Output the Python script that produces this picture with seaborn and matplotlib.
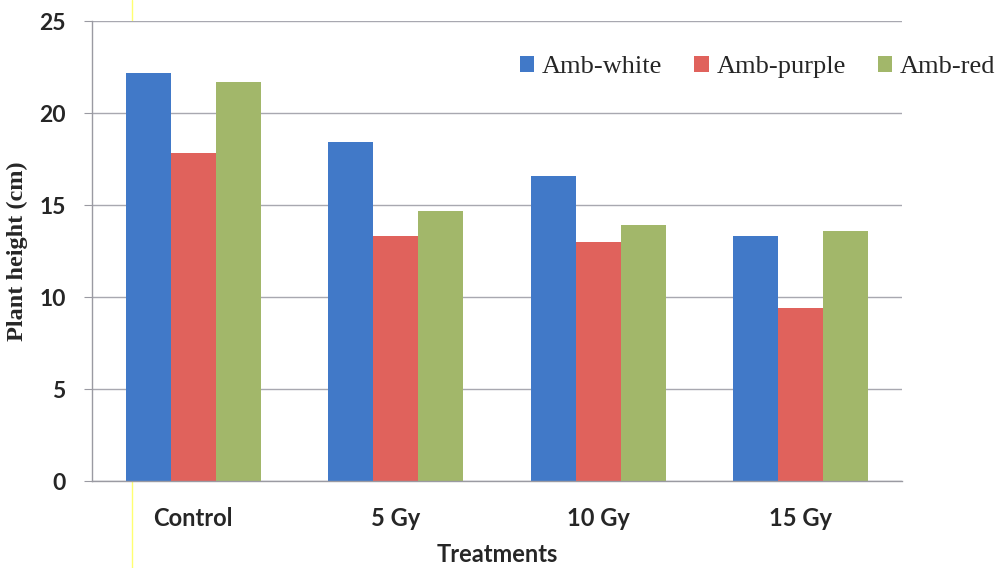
import matplotlib
matplotlib.use("Agg")
import matplotlib.pyplot as plt
from matplotlib.lines import Line2D
import seaborn as sns
import pandas as pd
import numpy as np

treatments = ["Control", "5 Gy", "10 Gy", "15 Gy"]
series = ["Amb-white", "Amb-purple", "Amb-red"]
amb_white = [22.2, 18.4, 16.6, 13.3]
amb_purple = [17.8, 13.3, 13.0, 9.4]
amb_red = [21.7, 14.7, 13.9, 13.6]
colors = ["#4179C8", "#E0625C", "#A2B76A"]
yticks = [0, 5, 10, 15, 20, 25]

rows = []
for s, vals in zip(series, [amb_white, amb_purple, amb_red]):
    for t, v in zip(treatments, vals):
        rows.append({"Treatments": t, "Series": s, "Height": v})
df = pd.DataFrame(rows)

sns.set_style("white")
fig = plt.figure(figsize=(10.05, 5.68), dpi=100)
ax = fig.add_axes([92/1005, 1-481/568, 810/1005, 460/568])

sns.barplot(data=df, x="Treatments", y="Height", hue="Series", order=treatments,
            hue_order=series, palette=colors, width=0.667, gap=0, saturation=1,
            linewidth=0, ax=ax, legend=True)

ax.set_xlim(-0.5, 3.5)
ax.set_ylim(0, 25)
ax.set_yticks(yticks)
ax.yaxis.grid(True, color="#A8A8B0", linewidth=1)
ax.set_axisbelow(True)
for sp in ["top", "right"]:
    ax.spines[sp].set_visible(False)
for sp in ["left", "bottom"]:
    ax.spines[sp].set_color("#9A9AA2")
    ax.spines[sp].set_linewidth(1)

ax.set_xticks(range(len(treatments)))
ax.set_xticklabels(treatments, fontfamily="Lato", fontweight="bold", fontsize=17)
ax.set_xticks(np.arange(-0.5, 4.0, 1.0), minor=True)
ax.tick_params(axis="x", which="major", length=0, pad=19)
ax.tick_params(axis="x", which="minor", length=7, color="#9A9AA2", direction="out")
ax.tick_params(axis="y", length=6, color="#9A9AA2", direction="out", pad=13, left=True)
for lab in ax.get_yticklabels():
    lab.set_fontfamily("Lato")
    lab.set_fontweight("bold")
    lab.set_fontsize(16.5)

ax.set_xlabel("Treatments", fontfamily="Lato", fontweight="bold", fontsize=17, labelpad=9)
ax.set_ylabel("Plant height (cm)", fontfamily="Liberation Serif", fontweight="bold",
              fontsize=17.5, labelpad=8)

leg = ax.legend(loc="center left", bbox_to_anchor=(0.528, 0.9), ncol=3, frameon=False,
                handlelength=0.55, handleheight=0.55, handletextpad=0.3,
                columnspacing=1.2, borderaxespad=0, borderpad=0,
                prop={"family": "Liberation Serif", "size": 19})

fig.add_artist(Line2D([132/1005, 132/1005], [0, 1], color="#FFFF70", linewidth=1,
                      transform=fig.transFigure, zorder=0))

fig.savefig("out.png", dpi=100)
